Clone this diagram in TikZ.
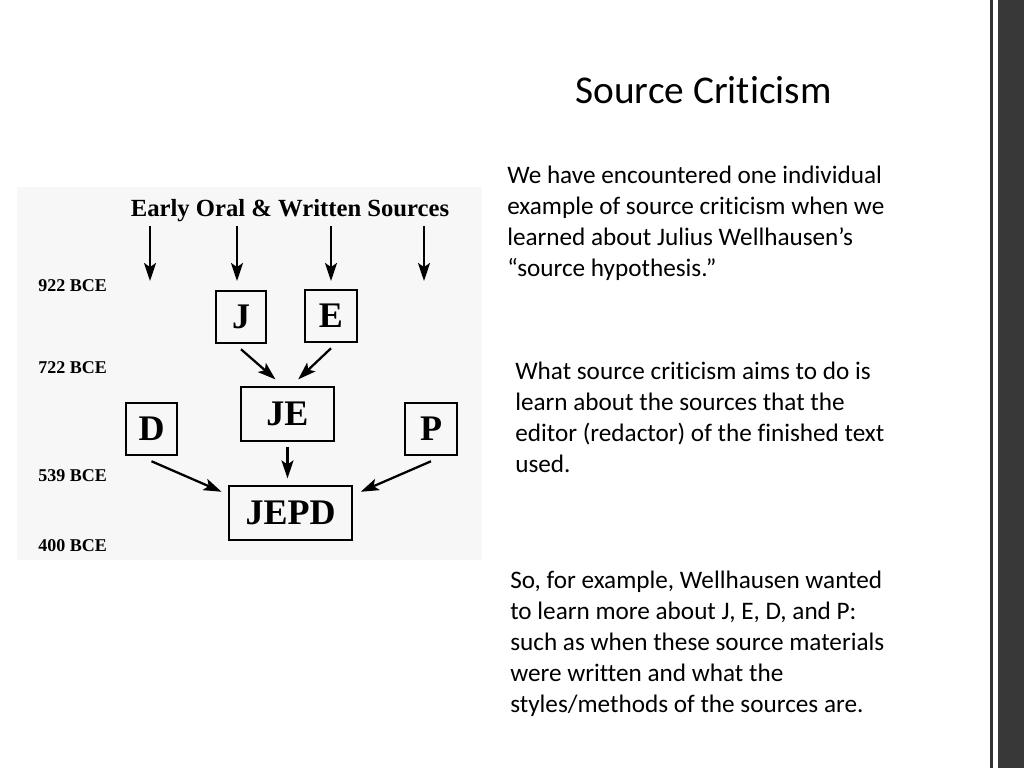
\documentclass[tikz,border=0pt]{standalone}
\usepackage{fontspec}
\setmainfont{Carlito}[Ligatures=NoCommon]
\newfontfamily\diagfont{Liberation Serif}
\usetikzlibrary{arrows.meta, positioning}

\begin{document}
\begin{tikzpicture}[x=0.75pt, y=-0.75pt,
    box/.style={rectangle, draw, line width=1.4pt, inner sep=0pt,
                font=\diagfont\bfseries\fontsize{27}{27}\selectfont},
    arrow/.style={-{Stealth[length=13.5pt, width=9pt, inset=3pt]}, line width=1.7pt},
    date/.style={anchor=base west, inner sep=0pt,
                 font=\diagfont\bfseries\fontsize{13.5}{14}\selectfont},
    para/.style={anchor=base west, inner sep=0pt, align=left,
                 font=\fontsize{18.9}{23.25}\selectfont}
]
\useasboundingbox (0,0) rectangle (1024,768);
\fill[white] (0,0) rectangle (1024,768);
% right edge of the slide
\fill[black!80] (990,0) rectangle (992.5,768);
\fill[black!78] (998,0) rectangle (1024,768);
% picture area
\fill[black!3] (17,187) rectangle (482,560);

\node[font=\fontsize{29.5}{32}\selectfont, anchor=base, inner sep=0pt] (title) at (703.5,103) {Source Criticism};

\node[font=\diagfont\bfseries\fontsize{18.5}{20}\selectfont, inner sep=0pt] (sources) at (290,211) {Early Oral \& Written Sources};

\node[date] (d922) at (38,291) {922 BCE};
\node[date] (d722) at (38,373) {722 BCE};
\node[date] (d539) at (38,481) {539 BCE};
\node[date] (d400) at (38,551) {400 BCE};

\node[box, minimum width=37.5pt, minimum height=39pt] (J)    at (241,317)   {J};
\node[box, minimum width=39pt,   minimum height=39pt] (E)    at (331,316)   {E};
\node[box, minimum width=70pt,   minimum height=40.5pt] (JE) at (287.5,414) {JE};
\node[box, minimum width=38pt,   minimum height=39pt] (D)    at (151.5,429) {D};
\node[box, minimum width=39pt,   minimum height=39pt] (P)    at (431,429)   {P};
\node[box, minimum width=92pt,   minimum height=40.5pt] (JEPD) at (290.5,513) {JEPD};

\foreach \x [count=\i] in {150,237,331,424} {
    \coordinate (in\i) at (\x,281);
    \draw[arrow, shorten <=3pt] (sources.south -| in\i) -- (in\i);
}

\draw[arrow] ([yshift=-4pt]J.south) -- ([xshift=-9pt, yshift=5pt]JE.north);
\draw[arrow] ([yshift=-4pt]E.south) -- ([xshift=8pt, yshift=5pt]JE.north);
\draw[arrow] ([yshift=-4pt]JE.south) -- ([yshift=5pt]JE.south |- JEPD.north);
\draw[arrow] ([yshift=-4pt]D.south) -- ([xshift=-5pt, yshift=-5pt]JEPD.north west);
\draw[arrow] ([yshift=-4pt]P.south) -- ([xshift=6pt, yshift=-5pt]JEPD.north east);

% anchored at the last line's baseline
\node[para] (intro) at (507,276) {We have encountered one individual\\
    example of source criticism when we\\
    learned about Julius Wellhausen’s\\
    “source hypothesis.”};
\node[para] (aim) at (515,472) {What source criticism aims to do is\\
    learn about the sources that the\\
    editor (redactor) of the finished text\\
    used.};
\node[para] (example) at (510,712) {So, for example, Wellhausen wanted\\
    to learn more about J, E, D, and P:\\
    such as when these source materials\\
    were written and what the\\
    styles/methods of the sources are.};
\end{tikzpicture}
\end{document}
